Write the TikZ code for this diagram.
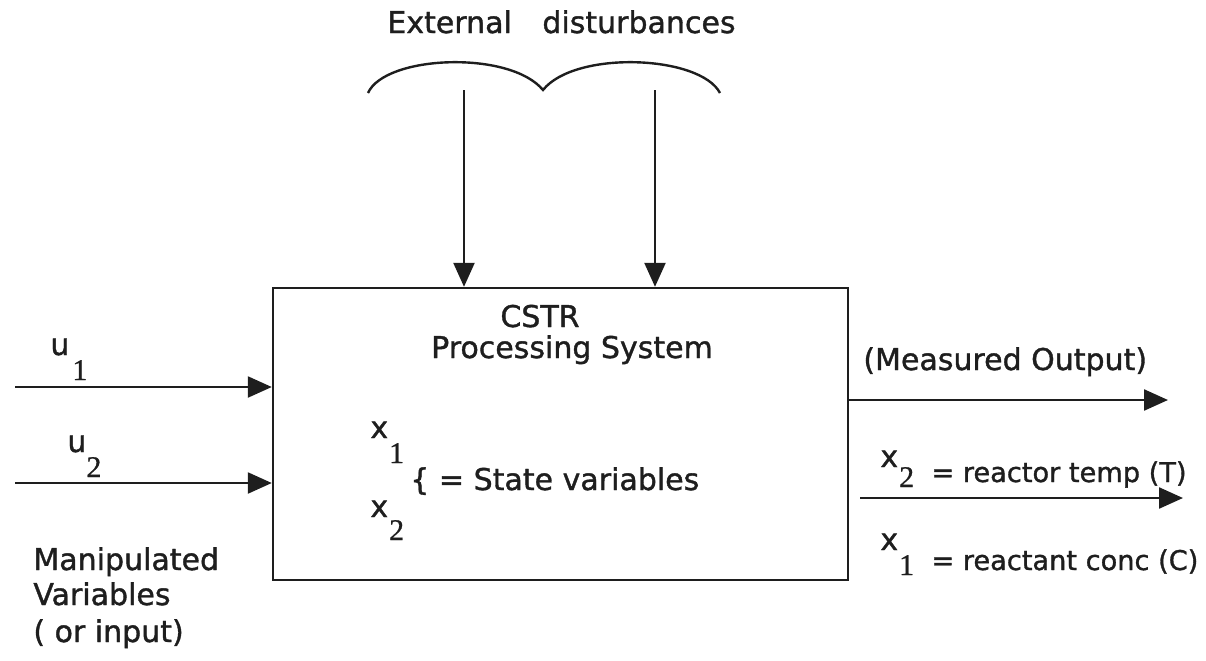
\documentclass[tikz,border=0pt]{standalone}
\usepackage{fontspec}
\setmainfont{DejaVu Sans}[FakeBold=1.2]
\newfontfamily\digitfont{Liberation Serif}[FakeBold=0.8]
\usetikzlibrary{arrows.meta}
\definecolor{ink}{HTML}{1E1E1E}
\begin{document}
\begin{tikzpicture}[x=0.5pt,y=-0.5pt,
  lbl/.style={font=\fontsize{15pt}{18pt}\selectfont, text=ink, inner sep=0pt, anchor=base west},
  small/.style={font=\fontsize{13.6pt}{16pt}\selectfont},
  flow/.style={draw=ink, line width=1.2pt, -{Triangle[length=12pt,width=10.5pt]}},
  arc/.style={draw=ink, line width=1.2pt},
  sysbox/.style={draw=ink, line width=1.2pt, minimum width=287.5pt, minimum height=146pt, inner sep=0pt}]
\useasboundingbox (0,0) rectangle (1206,660);

% main box
\node[sysbox] (box) at (560.5,434) {};

% disturbances
\node[lbl] (ext) at (387,33) {External};
\node[lbl] (dist) at (542,33) {disturbances};
\coordinate (a1) at (368,93);
\coordinate (cusp) at (543,90);
\coordinate (a2) at (720,93);
\draw[arc] (a1) .. controls (385,55) and (510,50) .. (cusp)
           .. controls (575,50) and (700,55) .. (a2);
\coordinate (d1) at (464,90);
\coordinate (d2) at (655,90);
\draw[flow] (d1) -- (d1 |- box.north);
\draw[flow] (d2) -- (d2 |- box.north);

% box texts
\node[lbl, anchor=base] (cstr) at (540,327) {CSTR};
\node[lbl, anchor=base] (proc) at (572,358) {Processing System};
\node[lbl] (sx1) at (370,438) {x\hspace{0.5pt}\raisebox{-12.5pt}{\digitfont 1}};
\node[lbl] (sx2) at (370,517) {x\hspace{0.5pt}\raisebox{-11.5pt}{\digitfont 2}};
\node[lbl] (state) at (410,490) {\{ = State variables};

% inputs
\coordinate (i1) at (15,387);
\coordinate (i2) at (15,483);
\draw[flow] (i1) -- (i1 -| box.west);
\draw[flow] (i2) -- (i2 -| box.west);
\node[lbl] (u1) at (50,355) {u\hspace{1.5pt}\raisebox{-12.5pt}{\digitfont 1}};
\node[lbl] (u2) at (67,452) {u\hspace{0pt}\raisebox{-12.5pt}{\digitfont 2}};
\node[lbl] (m1) at (33,570) {Manipulated};
\node[lbl] (m2) at (33,605) {Variables};
\node[lbl] (m3) at (33,642) {( or input)};

% outputs
\coordinate (o1) at (1168,400);
\draw[flow] (box.east |- o1) -- (o1);
\coordinate (o2s) at (860,498);
\coordinate (o2) at (1183,498);
\draw[flow] (o2s) -- (o2);
\node[lbl] (meas) at (863,370) {(Measured Output)};
\node[lbl] (ox2) at (880,467) {x\hspace{0.5pt}\raisebox{-10pt}{\digitfont 2}\raisebox{-7.5pt}{\fontsize{13.6pt}{16pt}\selectfont\ \ = reactor temp (T)}};
\node[lbl] (ox1) at (880,550) {x\hspace{0.5pt}\raisebox{-12.5pt}{\digitfont 1}\raisebox{-10pt}{\fontsize{13.6pt}{16pt}\selectfont\ \ = reactant conc (C)}};
\end{tikzpicture}
\end{document}
